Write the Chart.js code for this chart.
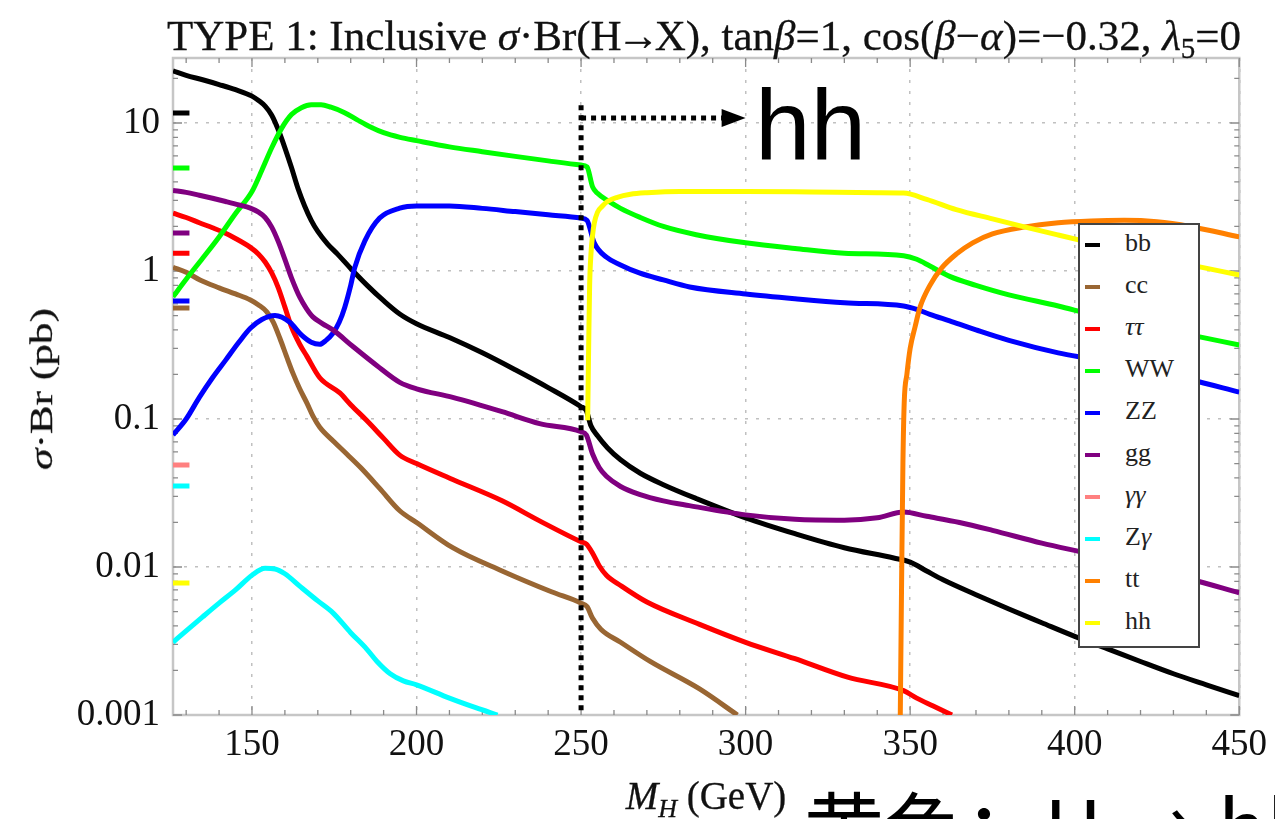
<!DOCTYPE html>
<html><head><meta charset="utf-8">
<script src="https://cdn.jsdelivr.net/npm/chart.js@4.4.1/dist/chart.umd.min.js"></script>
<style>
html,body{margin:0;padding:0;background:#fff;}
#wrap{position:relative;width:1275px;height:819px;overflow:hidden;background:#fff;}
#c{position:absolute;left:0;top:0;}
.t{position:absolute;white-space:nowrap;line-height:1;}
.serif{font-family:"Liberation Serif","DejaVu Serif",serif;color:#111;-webkit-text-stroke:0.3px #111;}
#legend{position:absolute;left:1078px;top:223px;width:118px;height:421px;border:2px solid #444;background:#fff;}
.li{position:absolute;left:0;height:42px;width:118px;}
.ls{position:absolute;left:5px;top:19px;width:15px;height:4px;}
.lt{position:absolute;left:45px;top:6px;font-family:"Liberation Serif",serif;font-size:26px;line-height:1;color:#222;}
</style></head><body>
<div id="wrap">
<canvas id="c" width="1275" height="819"></canvas>
<div class="t serif" id="title" style="left:704px;top:14px;font-size:43px;transform:translateX(-50%);">TYPE 1: Inclusive <i>σ</i>·Br(H<span style="margin:0 -5px;">→</span>X), tan<i>β</i>=1, cos(<i>β</i>−<i>α</i>)=−0.32, <i>λ</i><span style="font-size:29px;position:relative;top:8px;">5</span>=0</div>
<div class="t serif" id="ytitle" style="left:41px;top:389px;font-size:32px;transform:translate(-50%,-50%) rotate(-90deg) scaleX(1.35);"><i>σ</i>·Br (pb)</div>
<div class="t serif" id="xtitle" style="left:706px;top:776px;font-size:39px;transform:translateX(-50%);"><i>M</i><span style="font-size:26px;position:relative;top:8px;"><i>H</i></span> (GeV)</div>
<div class="t" id="hhnote" style="left:755px;top:75px;font-family:'Liberation Sans',Arial,sans-serif;font-size:100px;color:#000;">hh</div>
<div class="t" id="cnnote" style="left:804px;top:784px;font-family:'Noto Sans CJK SC',sans-serif;font-size:80px;color:#000;">黄色：H → hh</div>
<div id="legend"></div>
</div>
<script>
// ---------- data ----------
const xMajorTicks = [150, 200, 250, 300, 350, 400, 450];
const xMinorTicks = [130, 140, 160, 170, 180, 190, 210, 220, 230, 240, 260, 270, 280, 290, 310, 320, 330, 340, 360, 370, 380, 390, 410, 420, 430, 440];
const yMajorTicks = [0.001, 0.01, 0.1, 1, 10];
const yTickLabels = ['0.001', '0.01', '0.1', '1', '10'];

const seriesNames  = ['bb', 'cc', 'ττ', 'WW', 'ZZ', 'gg', 'γγ', 'Zγ', 'tt', 'hh'];
const seriesColors = ['#000000', '#996633', '#ff0000', '#00ff00', '#0000ff', '#800080', '#ff8080', '#00ffff', '#ff8000', '#ffff00'];

const bbMass = [126,130,135,140,145,150,152,154,156,158,160,162,164,166,168,170,173,176,180,185,190,195,200,210,220,230,240,250,251.6,253,255,258,262,268,275,285,300,315,330,345,350,355,360,370,380,390,400,410,420,430,440,450];
const bbVal  = [22.5,21,19.6,18.2,16.8,15.2,14.2,13,11.3,9.0,6.8,5.0,3.6,2.75,2.2,1.85,1.52,1.3,1.04,0.8,0.63,0.51,0.44,0.355,0.28,0.215,0.163,0.121,0.114,0.09,0.077,0.064,0.053,0.043,0.036,0.029,0.0215,0.0168,0.0135,0.0115,0.0108,0.0094,0.0082,0.0065,0.0052,0.0042,0.0034,0.0028,0.0023,0.0019,0.0016,0.00135];

const ccMass = [126,130,134.2,140,145,149.4,152,154.5,156.5,158.5,160.5,162.4,164.5,166.7,168.5,170.6,175,178.8,183,188.8,194.9,200,211,226,241,250,251.8,253.5,256,262,271,286,297.5];
const ccVal  = [1.06,0.98,0.87,0.77,0.7,0.64,0.59,0.53,0.45,0.35,0.265,0.205,0.16,0.128,0.105,0.088,0.07,0.058,0.047,0.034,0.024,0.02,0.0135,0.0094,0.0068,0.0057,0.0054,0.0045,0.0038,0.0031,0.0023,0.0015,0.001];

const tauMass = [126,130,134,138,141,145,149.4,152,154,156,158,160,162,164.5,166.7,170.6,176.7,180,184.8,190,194.9,200,211,226,237.4,250,251.6,253.5,255.5,257.7,262,270,286,300,315,331,348,352,357,362.7];
const tauVal  = [2.46,2.3,2.12,1.96,1.84,1.66,1.45,1.3,1.15,0.97,0.77,0.57,0.42,0.32,0.265,0.19,0.15,0.125,0.098,0.074,0.057,0.05,0.039,0.028,0.0205,0.0148,0.0143,0.0124,0.0102,0.0088,0.0075,0.0058,0.0041,0.0031,0.0024,0.0018,0.00146,0.0013,0.00115,0.001];

const wwMass = [126,130,135,140,145,150,153,156,159,162,165,168,171,174,178,182,186,190,195,200,210,220,230,240,250,251.8,253.5,255,258,262,268,275,285,300,315,330,348,352,356,362,370,380,395,405,420,435,450];
const wwVal  = [0.67,0.88,1.22,1.7,2.45,3.45,4.8,6.8,9.2,11.4,12.7,13.3,13.3,12.8,11.8,10.5,9.4,8.6,8.0,7.6,6.9,6.4,5.95,5.55,5.2,5.05,3.7,3.35,3.0,2.65,2.3,2.0,1.76,1.55,1.42,1.32,1.27,1.2,1.08,0.92,0.8,0.69,0.58,0.51,0.43,0.37,0.316];

const zzMass = [126,130,134,138,142,146,149.5,153,157,161.5,165,168,170.6,172.5,174.6,176.5,178.2,180,181.2,184.3,188.8,194.9,200,210,220,230,240,250,251.8,254,257.7,262,267.7,275,283,300,315,330,348,352,356,362,370,380,395,405,420,435,450];
const zzVal  = [0.078,0.1,0.14,0.19,0.25,0.33,0.41,0.47,0.5,0.45,0.37,0.33,0.32,0.34,0.38,0.45,0.57,0.8,1.05,1.6,2.28,2.66,2.75,2.75,2.65,2.52,2.4,2.28,2.2,1.55,1.24,1.1,0.97,0.87,0.78,0.7,0.65,0.61,0.58,0.55,0.51,0.46,0.4,0.34,0.28,0.255,0.22,0.185,0.152];

const ggMass = [126,130,134,138,142,146,149.5,152,154,156,158,160,162,164.6,166.5,168.5,171.5,174.6,180.6,187.9,194.9,200,211,226,237.4,250,251.6,253.5,255.5,257.7,262,267.7,275,282.9,300,315,330,340,348,355,365,375,390,405,420,435,450];
const ggVal  = [3.5,3.4,3.25,3.1,2.95,2.8,2.66,2.5,2.3,1.98,1.58,1.2,0.9,0.66,0.56,0.49,0.44,0.4,0.31,0.23,0.177,0.16,0.14,0.112,0.093,0.082,0.078,0.058,0.047,0.041,0.035,0.031,0.028,0.026,0.0225,0.021,0.0207,0.0215,0.0235,0.022,0.02,0.0177,0.0145,0.0122,0.0101,0.0083,0.0067];

const aaMass = [];   // γγ stays below 0.001 pb over the whole range
const aaVal  = [];

const zaMass = [126,130,135,140,145,150,154,157,160,164.6,170,174.6,180,184.8,188,192,196,200,210,218,224.6];
const zaVal  = [0.0031,0.0037,0.0046,0.0057,0.007,0.0088,0.0098,0.0097,0.009,0.0074,0.0059,0.0049,0.0036,0.0028,0.0023,0.0019,0.0017,0.0016,0.0013,0.00112,0.001];

const ttMass = [347,347.4,347.8,348.2,349,350,351.5,353,356,359.6,364,369,375,384.5,395,405,415,425,435,450];
const ttVal  = [0.001,0.008,0.05,0.13,0.2,0.3,0.42,0.57,0.8,1.05,1.3,1.55,1.78,1.98,2.12,2.18,2.2,2.15,2.0,1.7];

const hhMass = [252,252.3,252.6,253,253.5,254,255,256.5,258,261,265,270,280,290,300,320,340,348,355,364,375,385,395,405,420,435,450];
const hhVal  = [0.098,0.3,0.8,1.3,1.75,2.1,2.5,2.75,2.95,3.15,3.3,3.38,3.45,3.45,3.45,3.42,3.38,3.36,3.05,2.6,2.25,1.98,1.75,1.55,1.3,1.1,0.94];

// SM reference marks at the left edge
const smMassRange = [126, 131];
const smVal   = [11.7, 4.97, 1.81, 1.32, 0.627, 0.562, 0.0489, 0.0353, 0.0078];
const smColor = ['#000000', '#00ff00', '#800080', '#ff0000', '#0000ff', '#996633', '#ff8080', '#00ffff', '#ffff00'];

// annotation: dotted threshold line and arrow to "hh"
const hhThreshold = 250, arrowEnd = 300, arrowLevel = 10.8, lineTop = 13.2;

// ---------- build ----------
const masses = [bbMass, ccMass, tauMass, wwMass, zzMass, ggMass, aaMass, zaMass, ttMass, hhMass];
const values = [bbVal, ccVal, tauVal, wwVal, zzVal, ggVal, aaVal, zaVal, ttVal, hhVal];

const datasets = seriesNames.map((n, i) => ({
  label: n,
  data: masses[i].map((m, k) => ({x: m, y: values[i][k]})),
  borderColor: seriesColors[i],
  backgroundColor: seriesColors[i],
  borderWidth: 5,
  pointRadius: 0,
  cubicInterpolationMode: 'monotone',
  fill: false,
  order: 100 - i
}));
smVal.forEach((v, i) => datasets.push({
  label: 'sm' + i,
  data: smMassRange.map(m => ({x: m, y: v})),
  borderColor: smColor[i],
  borderWidth: 5,
  pointRadius: 0,
  borderCapStyle: 'butt',
  order: 0
}));

const xTicksAll = xMinorTicks.concat(xMajorTicks).sort((a, b) => a - b);
const yTicksAll = [];
for (let e = -3; e <= 1; e++) for (let d = 1; d <= 9; d++) {
  const v = Number((d * Math.pow(10, e)).toPrecision(3));
  if (v <= 27.5) yTicksAll.push(v);
}
const isYMajor = v => yMajorTicks.some(m => Math.abs(m - v) / m < 1e-6);
const gridCol = '#c0c0c0';

const framePlugin = {
  id: 'frame',
  beforeDatasetsDraw(chart) {
    const {ctx, chartArea: a, scales: {x, y}} = chart;
    ctx.save();
    ctx.setLineDash([]);
    ctx.strokeStyle = '#c6c6c6';
    ctx.lineWidth = 2.5;
    ctx.strokeRect(a.left, a.top, a.right - a.left, a.bottom - a.top);
    ctx.strokeStyle = '#8a8a8a';
    ctx.lineWidth = 1.3;
    ctx.beginPath();
    xTicksAll.forEach(v => {
      const px = x.getPixelForValue(v);
      const len = xMajorTicks.includes(v) ? 9 : 5;
      ctx.moveTo(px, a.bottom); ctx.lineTo(px, a.bottom - len);
      ctx.moveTo(px, a.top); ctx.lineTo(px, a.top + len);
    });
    yTicksAll.forEach(v => {
      const py = y.getPixelForValue(v);
      const len = isYMajor(v) ? 9 : 5;
      ctx.moveTo(a.left, py); ctx.lineTo(a.left + len, py);
      ctx.moveTo(a.right, py); ctx.lineTo(a.right - len, py);
    });
    ctx.stroke();
    ctx.restore();
  }
};

const annotPlugin = {
  id: 'annot',
  afterDatasetsDraw(chart) {
    const {ctx, chartArea: a, scales: {x, y}} = chart;
    const x0 = x.getPixelForValue(hhThreshold);
    const x1 = x.getPixelForValue(arrowEnd);
    const yA = y.getPixelForValue(arrowLevel);
    const yT = y.getPixelForValue(lineTop);
    ctx.save();
    ctx.strokeStyle = '#000';
    ctx.lineWidth = 5;
    ctx.setLineDash([5, 5]);
    ctx.beginPath();
    ctx.moveTo(x0, yT); ctx.lineTo(x0, a.bottom);
    ctx.stroke();
    ctx.beginPath();
    ctx.moveTo(x0, yA); ctx.lineTo(x1 - 22, yA);
    ctx.stroke();
    ctx.setLineDash([]);
    ctx.fillStyle = '#000';
    ctx.beginPath();
    ctx.moveTo(x1 - 24, yA - 9); ctx.lineTo(x1, yA); ctx.lineTo(x1 - 24, yA + 9); ctx.closePath();
    ctx.fill();
    ctx.restore();
  }
};

new Chart(document.getElementById('c').getContext('2d'), {
  type: 'line',
  data: {datasets},
  options: {
    responsive: false,
    animation: false,
    devicePixelRatio: 1,
    layout: {padding: {left: 0, right: 34, top: 58, bottom: 0}},
    plugins: {legend: {display: false}, title: {display: false}, tooltip: {enabled: false}},
    scales: {
      x: {
        type: 'linear', min: 126, max: 450,
        afterFit(s) { s.height = 104; },
        afterBuildTicks(s) { s.ticks = xTicksAll.map(v => ({value: v})); },
        ticks: {
          autoSkip: false, maxRotation: 0, padding: 8, color: '#111',
          font: {family: 'Liberation Serif', size: 37},
          callback: v => xMajorTicks.includes(v) ? String(v) : ''
        },
        grid: {
          drawTicks: false, lineWidth: 1.5,
          color: c => (c.tick && xMajorTicks.includes(c.tick.value)) ? gridCol : 'rgba(0,0,0,0)',
          borderDash: [3, 8]
        },
        border: {display: false, dash: [3, 8]}
      },
      y: {
        type: 'logarithmic', min: 0.001, max: 27.5,
        afterFit(s) { s.width = 173; },
        afterBuildTicks(s) { s.ticks = yTicksAll.map(v => ({value: v})); },
        ticks: {
          autoSkip: false, padding: 13, color: '#111',
          font: {family: 'Liberation Serif', size: 37},
          callback: v => { const k = yMajorTicks.findIndex(m => Math.abs(m - v) / m < 1e-6); return k >= 0 ? yTickLabels[k] : ''; }
        },
        grid: {
          drawTicks: false, lineWidth: 1.5,
          color: c => (c.tick && isYMajor(c.tick.value)) ? gridCol : 'rgba(0,0,0,0)',
          borderDash: [3, 8]
        },
        border: {display: false, dash: [3, 8]}
      }
    }
  },
  plugins: [framePlugin, annotPlugin]
});

// legend (HTML) built from the series arrays
const lg = document.getElementById('legend');
seriesNames.forEach((n, i) => {
  const row = document.createElement('div');
  row.className = 'li';
  row.style.top = (42 * i - 1) + 'px';
  const sw = document.createElement('div');
  sw.className = 'ls';
  sw.style.background = seriesColors[i];
  const tx = document.createElement('div');
  tx.className = 'lt';
  tx.innerHTML = n.replace(/([α-ω])/g, '<i>$1</i>');
  row.appendChild(sw); row.appendChild(tx);
  lg.appendChild(row);
});
</script>
</body></html>
